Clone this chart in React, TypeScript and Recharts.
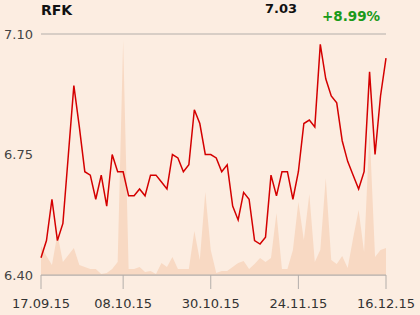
import React from 'react'
import { ComposedChart, Line, Area, XAxis, YAxis, CartesianGrid } from 'recharts'

const prices = [
  6.45, 6.5, 6.62, 6.5, 6.55, 6.75, 6.95, 6.83, 6.7, 6.69, 6.62, 6.69, 6.6, 6.75, 6.7, 6.7,
  6.63, 6.63, 6.65, 6.63, 6.69, 6.69, 6.67, 6.65, 6.75, 6.74, 6.7, 6.72, 6.88, 6.84, 6.75, 6.75,
  6.74, 6.7, 6.72, 6.6, 6.56, 6.64, 6.62, 6.5, 6.49, 6.51, 6.69, 6.63, 6.7, 6.7, 6.62, 6.7,
  6.84, 6.85, 6.83, 7.07, 6.97, 6.92, 6.9, 6.79, 6.73, 6.69, 6.65, 6.7, 6.99, 6.75, 6.92, 7.03,
]

// volume, thousands
const volumes = [
  29, 19, 10, 41, 13, 20, 27, 10, 8, 6, 6, 1, 2, 6, 13, 235,
  6, 6, 8, 3, 4, 1, 12, 8, 18, 6, 6, 6, 44, 15, 83, 25,
  2, 4, 4, 8, 12, 14, 6, 11, 17, 13, 17, 62, 6, 6, 25, 73,
  35, 81, 13, 25, 97, 15, 11, 19, 7, 37, 65, 23, 145, 18, 25, 27,
]

const tickIndex = [0, 15, 31, 47, 63]
const tickLabels = ['17.09.15', '08.10.15', '30.10.15', '24.11.15', '16.12.15']
const priceTicks = [6.4, 6.75, 7.1]

const data = prices.map((p, i) => ({ i, price: p, vol: volumes[i] }))

const FONT = '"DejaVu Sans", sans-serif'
const GRID = '#b3aeaa'

const YTick = ({ y, payload }: any) => (
  <text x={4} y={y} dominantBaseline="central" fill="#444" fontSize={13} fontFamily={FONT}>
    {payload.value.toFixed(2)}
  </text>
)

const XTick = ({ x, payload }: any) => (
  <text x={x} y={303} textAnchor="middle" dominantBaseline="central" fill="#333" fontSize={13} fontFamily={FONT}>
    {tickLabels[tickIndex.indexOf(payload.value)]}
  </text>
)

export default function App() {
  return (
    <div style={{ position: 'absolute', left: 0, top: 0, width: 420, height: 315, background: '#fcede1', fontFamily: FONT }}>
      <div style={{ position: 'absolute', left: 41, top: 2, fontSize: 14, fontWeight: 'bold', color: '#111' }}>RFK</div>
      <div style={{ position: 'absolute', left: 265, top: 1, fontSize: 13, fontWeight: 'bold', color: '#111' }}>7.03</div>
      <div style={{ position: 'absolute', left: 322, top: 8, fontSize: 13.5, fontWeight: 'bold', color: '#1a9a1a' }}>+8.99%</div>
      <ComposedChart width={420} height={315} data={data} margin={{ top: 34, right: 34, left: 0, bottom: 0 }}>
        <CartesianGrid vertical={false} stroke={GRID} />
        <XAxis
          dataKey="i"
          type="number"
          domain={[0, 63]}
          ticks={tickIndex}
          tickSize={14}
          height={40}
          stroke={GRID}
          tick={<XTick />}
          interval={0}
        />
        <YAxis
          yAxisId="p"
          domain={[6.4, 7.1]}
          ticks={priceTicks}
          width={41}
          axisLine={false}
          tickLine={false}
          tick={<YTick />}
          interval={0}
        />
        <YAxis yAxisId="v" orientation="right" domain={[0, 241]} hide />
        <Area
          yAxisId="v"
          dataKey="vol"
          type="linear"
          stroke="none"
          fill="#f8d9c3"
          fillOpacity={1}
          isAnimationActive={false}
        />
        <Line
          yAxisId="p"
          dataKey="price"
          type="linear"
          stroke="#d40000"
          strokeWidth={1.5}
          dot={false}
          isAnimationActive={false}
        />
      </ComposedChart>
    </div>
  )
}
